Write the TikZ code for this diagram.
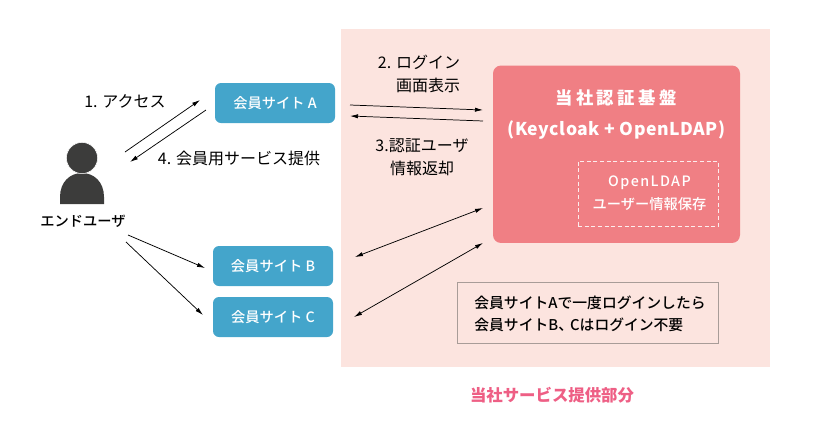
\documentclass[tikz,border=0pt]{standalone}
\usepackage{fontspec}
\setmainfont{Noto Sans CJK JP}
\newfontfamily\jpmedium{Noto Sans CJK JP Medium}
\usetikzlibrary{arrows.meta}

\definecolor{panelpink}{HTML}{FCE4DF}
\definecolor{authred}{HTML}{F07F84}
\definecolor{siteblue}{HTML}{44A5CB}
\definecolor{usergrey}{HTML}{3C3C3B}
\definecolor{titlepink}{HTML}{EE5F85}
\definecolor{notegrey}{HTML}{A89C98}

\newcommand{\sitename}[1]{\raisebox{-.8pt}{会員サイト #1}}

\tikzset{
  sitebox/.style={fill=siteblue, rounded corners=4.5pt, minimum width=90pt, minimum height=30pt,
    inner sep=0pt, text=white, font=\fontsize{10.7pt}{12pt}\jpmedium},
  label/.style={inner sep=0pt, align=center, text=black, font=\fontsize{12pt}{17pt}\selectfont},
  link/.style={-{Latex[length=6pt,width=3.2pt]}, line width=.55pt, draw=black},
  linkboth/.style={{Latex[length=6pt,width=3.2pt]}-{Latex[length=6pt,width=3.2pt]}, line width=.55pt, draw=black}
}

\begin{document}
\begin{tikzpicture}[x=.75pt,y=-.75pt]
  \useasboundingbox (0,0) rectangle (826,429);

  \fill[panelpink] (341,29) rectangle (770,367);

  \node (auth) at (616.5,154.25) [fill=authred, rounded corners=6pt, minimum width=185.25pt, minimum height=133.1pt, inner sep=0pt] {};
  \node (store) at (648.25,193.5) [draw=white!85!authred, densely dashed, line width=.4pt, minimum width=105.4pt, minimum height=48.8pt, inner sep=0pt] {};
  \node (note) at (587.5,313) [draw=notegrey, line width=.7pt, minimum width=195.7pt, minimum height=45.4pt, inner sep=0pt] {};

  \node (authtitle) at (616,98) [inner sep=0pt, text=white, font=\fontsize{13pt}{15pt}\selectfont\bfseries\addfontfeature{LetterSpace=20}] {当社認証基盤};
  \node (authsub) at (616.5,130) [inner sep=0pt, text=white, font=\fontsize{13.2pt}{15pt}\selectfont\bfseries\addfontfeature{LetterSpace=3}] {(Keycloak + OpenLDAP)};
  \node (storetext) at (649.5,193) [inner sep=0pt, align=center, text=white, font=\fontsize{10.7pt}{17.2pt}\jpmedium] {\addfontfeature{LetterSpace=10}OpenLDAP\\ ユーザー情報保存};
  \node (notetext) at (590,314) [label, align=left, font=\fontsize{11.1pt}{17pt}\jpmedium] {会員サイトAで一度ログインしたら\\ 会員サイトB、\hspace{-2.2pt}Cはログイン不要};
  \node (servicename) at (552,395) [inner sep=0pt, text=titlepink, font=\fontsize{12.3pt}{14pt}\selectfont\bfseries] {当社サービス提供部分};

  \node (siteA) at (275,103) [sitebox] {\sitename{A}};
  \node (siteB) at (273,266) [sitebox] {\sitename{B}};
  \node (siteC) at (273,317) [sitebox] {\sitename{C}};

  % user icon
  \fill[usergrey] (60,204) -- (60,197) .. controls (60,182) and (70,173) .. (82,173) .. controls (94,173) and (104,182) .. (104,197) -- (104,204) -- cycle;
  \node (head) at (82,158) [circle, fill=usergrey, draw=white, line width=.4pt, minimum size=23.4pt, inner sep=0pt] {};
  \node (user) at (83,221) [inner sep=0pt, font=\fontsize{10.7pt}{12pt}\jpmedium] {エンドユーザ};

  \node (step1) at (125,101) [label] {1. アクセス};
  \node (step4) at (239,158) [label] {4. 会員用サービス提供};
  \node (step2) at (419,74) [label, align=right] {2. ログイン\\ 画面表示};
  \node (step3) at (422,157) [label] {3.認証ユーザ\\ 情報返却};

  \coordinate (a1) at (125,152);
  \coordinate (a2) at (200,100);
  \coordinate (b1) at (206,110);
  \coordinate (b2) at (130,162);
  \coordinate (c1) at (128,235);
  \coordinate (c2) at (205,268);
  \coordinate (d1) at (126,242);
  \coordinate (d2) at (203,315);
  \coordinate (e1) at (350,105);
  \coordinate (e2) at (483,110);
  \coordinate (f1) at (483,121);
  \coordinate (f2) at (350,116);
  \coordinate (g1) at (355,257);
  \coordinate (g2) at (483,208);
  \coordinate (h1) at (354,317);
  \coordinate (h2) at (483,243);

  \foreach \from/\to in {a1/a2,b1/b2,c1/c2,d1/d2,e1/e2,f1/f2}
    \draw[link] (\from) -- (\to);
  \foreach \from/\to in {g1/g2,h1/h2}
    \draw[linkboth] (\from) -- (\to);

\end{tikzpicture}
\end{document}
